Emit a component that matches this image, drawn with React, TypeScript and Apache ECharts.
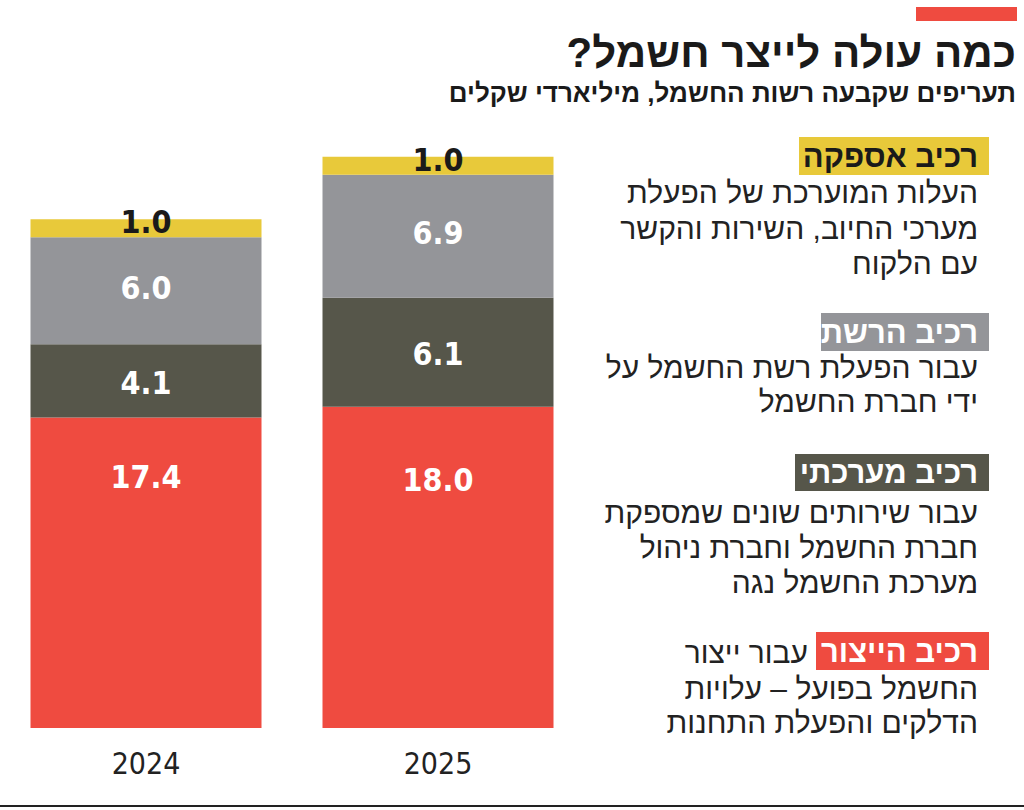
import React, { useEffect, useRef } from "react";
import * as echarts from "echarts";

const years = ["2024", "2025"];
const production = [17.4, 18.0];
const systemic = [4.1, 6.1];
const network = [6.0, 6.9];
const supply = [1.0, 1.0];

const title = "כמה עולה לייצר חשמל?\u200F";
const subtitle = "תעריפים שקבעה רשות החשמל, מיליארדי שקלים";

const supplyLabel = "רכיב אספקה";
const supplyDesc = ["העלות המוערכת של הפעלת", "מערכי החיוב, השירות והקשר", "עם הלקוח"];
const networkLabel = "רכיב הרשת";
const networkDesc = ["עבור הפעלת רשת החשמל על", "ידי חברת החשמל"];
const systemLabel = "רכיב מערכתי";
const systemDesc = ["עבור שירותים שונים שמספקת", "חברת החשמל וחברת ניהול", "מערכת החשמל נגה"];
const prodLabel = "רכיב הייצור";
const prodDesc = ["עבור ייצור", "החשמל בפועל – עלויות", "הדלקים והפעלת התחנות"];

const RED = "#EF4B40";
const DARK = "#56564A";
const GRAY = "#949599";
const YELLOW = "#E8C93A";
const HEB = '"Liberation Sans", "DejaVu Sans", sans-serif';
const NUM = '"DejaVu Sans Condensed", "Liberation Sans Narrow", sans-serif';

function txt(text: string, x: number, y: number, size: number, bold: boolean, fill: string) {
  return {
    type: "text",
    x,
    y,
    style: {
      text,
      fill,
      fontSize: size,
      fontWeight: bold ? "bold" : "normal",
      fontFamily: HEB,
      textAlign: "right",
      textVerticalAlign: "middle",
    },
  };
}

function labelBox(label: string, x0: number, y0: number, y1: number, bg: string, fg: string) {
  return [
    { type: "rect", shape: { x: x0, y: y0, width: 989 - x0, height: y1 - y0 }, style: { fill: bg } },
    txt(label, 978, (y0 + y1) / 2, 31, true, fg),
  ];
}

function descLines(lines: string[], ys: number[], xRight: number[]) {
  return lines.map((l, i) => txt(l, xRight[i], ys[i], 30, false, "#222"));
}

export default function App() {
  const ref = useRef<HTMLDivElement>(null);
  useEffect(() => {
    if (!ref.current) return;
    const chart = echarts.init(ref.current, null, { renderer: "svg" });
    const lbl = (color: string, extra: any) => ({
      show: true,
      color,
      fontSize: 32,
      fontWeight: "bold",
      fontFamily: NUM,
      formatter: (p: any) => Number(p.value).toFixed(1),
      ...extra,
    });
    const seg = (name: string, data: any[], color: string, label: any) => ({
      name,
      type: "bar",
      stack: "total",
      data,
      barWidth: 231,
      itemStyle: { color },
      label,
    });
    chart.setOption({
      animation: false,
      grid: { left: -3, width: 587, top: 14, bottom: 82 },
      xAxis: {
        type: "category",
        data: years,
        axisLine: { show: false },
        axisTick: { show: false },
        axisLabel: { margin: 20, fontSize: 30, color: "#222", fontFamily: NUM },
      },
      yAxis: { type: "value", min: 0, max: 40, show: false },
      series: [
        seg(
          prodLabel,
          production.map((v, i) => ({ value: v, label: { distance: i === 0 ? 44 : 57 } })),
          RED,
          lbl("#fff", { position: "insideTop" })
        ),
        seg(systemLabel, systemic, DARK, lbl("#fff", { position: "inside", offset: [0, 2] })),
        seg(networkLabel, network, GRAY, lbl("#fff", { position: "inside", offset: [0, -3] })),
        seg(supplyLabel, supply, YELLOW, lbl("#1a1a1a", { position: "inside", offset: [0, -6] })),
      ],
      graphic: [
        { type: "rect", shape: { x: 916, y: 7, width: 101, height: 14 }, style: { fill: RED } },
        txt(title, 1016, 52, 42, true, "#1a1a1a"),
        txt(subtitle, 1016, 93, 26, true, "#1a1a1a"),
        ...labelBox(supplyLabel, 799, 137, 175, YELLOW, "#1a1a1a"),
        ...descLines(supplyDesc, [192, 228, 263], [978, 978, 978]),
        ...labelBox(networkLabel, 821, 313, 351, GRAY, "#fff"),
        ...descLines(networkDesc, [367, 401], [978, 978]),
        ...labelBox(systemLabel, 795, 454, 491, DARK, "#fff"),
        ...descLines(systemDesc, [512, 547, 582], [978, 978, 978]),
        ...labelBox(prodLabel, 816, 632, 670, RED, "#fff"),
        ...descLines(prodDesc, [652, 688, 722], [808, 978, 978]),
        { type: "line", shape: { x1: 0, y1: 806, x2: 1024, y2: 806 }, style: { stroke: "#222", lineWidth: 2 } },
      ],
    });
    return () => chart.dispose();
  }, []);
  return (
    <div
      ref={ref}
      style={{ position: "fixed", left: 0, top: 0, width: 1024, height: 810, background: "#fff" }}
    />
  );
}
